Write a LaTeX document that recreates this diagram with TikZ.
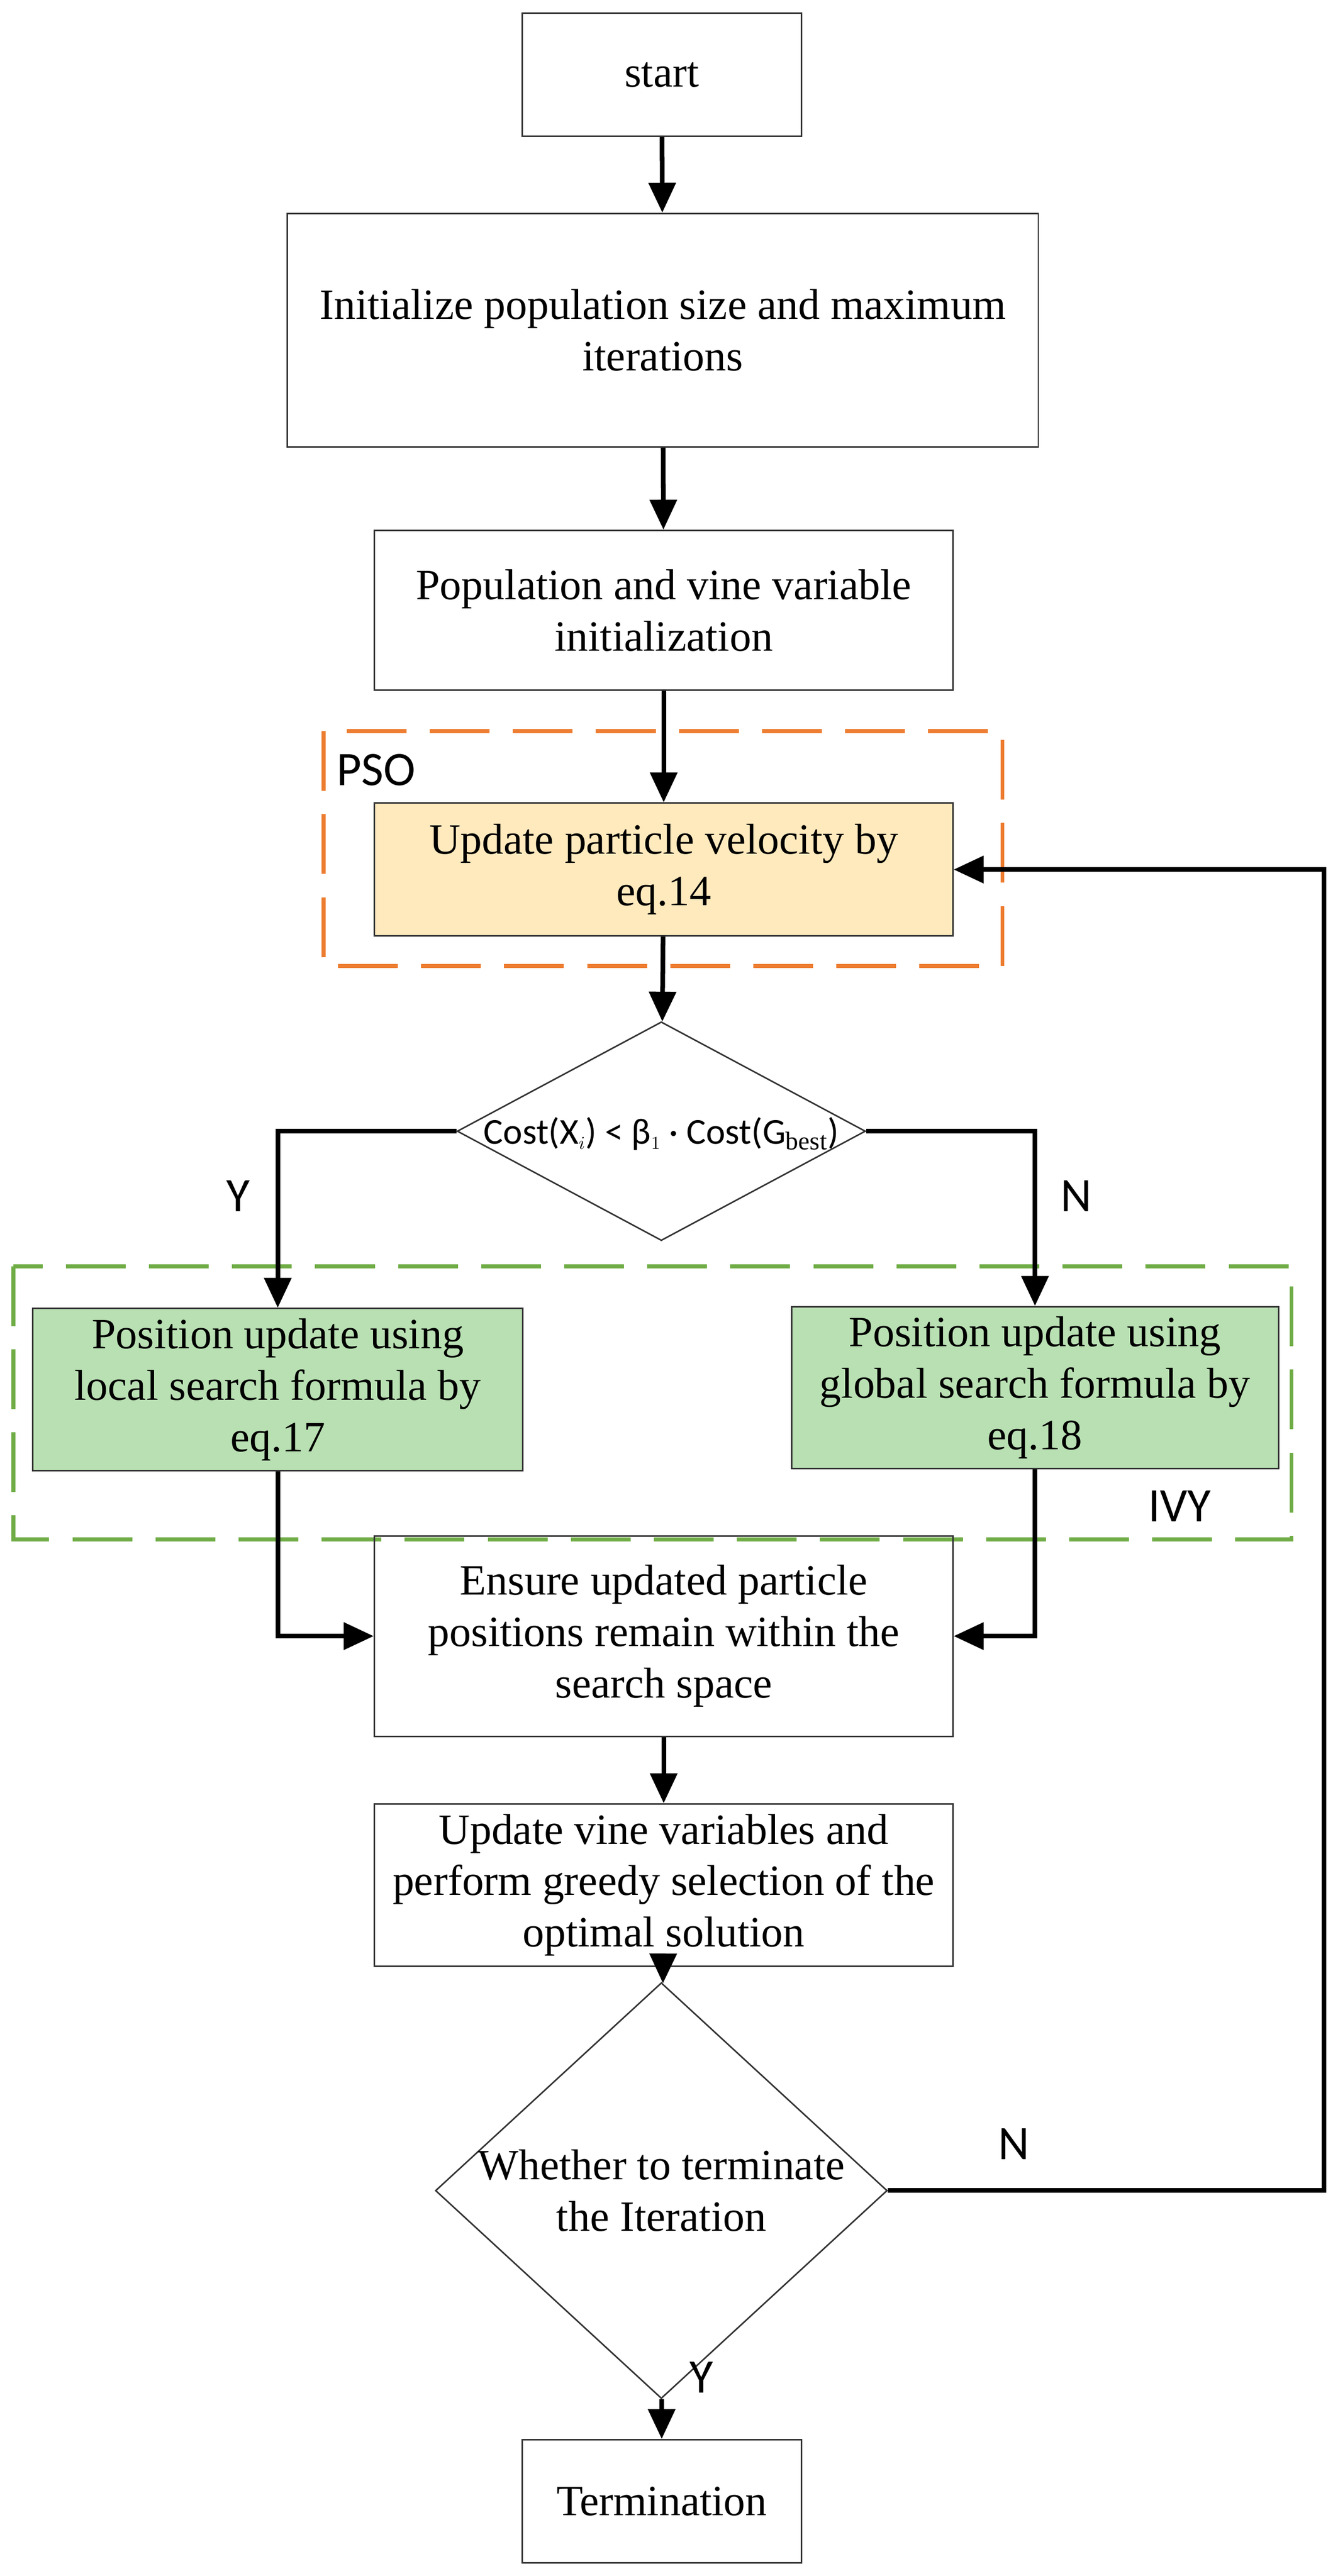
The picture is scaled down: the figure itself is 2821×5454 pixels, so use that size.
\documentclass[tikz,border=0pt]{standalone}
\usepackage{fontspec}
\setmainfont{Liberation Serif}
\newfontfamily\lab{Carlito}
\usetikzlibrary{shapes.geometric,arrows.meta}
\begin{document}
\begin{tikzpicture}[x=0.01cm,y=-0.01cm,
  box/.style={draw=black!80,line width=0.9pt,align=center,font=\fontsize{26}{31}\selectfont,inner sep=6pt},
  dia/.style={draw=black!80,line width=0.9pt,diamond,inner sep=0pt},
  arr/.style={line width=2.8pt,-{Triangle[length=18pt,width=16pt]}},
  lab/.style={font=\lab\fontsize{29}{33}\selectfont},
  grp/.style={line width=2.4pt,dash pattern=on 36pt off 14pt}]
\useasboundingbox (0,0) rectangle (2821,5454);
\node[box,minimum width=5.91cm,minimum height=2.61cm] (start) at (1401,158) {start};
\node[box,minimum width=15.89cm,minimum height=4.94cm] (init) at (1403,699) {Initialize population size and maximum\\iterations};
\node[box,minimum width=12.24cm,minimum height=3.38cm] (pop) at (1405,1292) {Population and vine variable\\initialization};
\node[box,fill={rgb,255:red,255;green,234;blue,190},minimum width=12.24cm,minimum height=2.81cm] (vel) at (1405,1841) {Update particle velocity by\\eq.14};
\draw[grp,draw={rgb,255:red,237;green,125;blue,49}] (685,1548) rectangle (2122,2045);
\node[lab,anchor=west] (pso) at (700,1630) {PSO};
\node[dia,minimum width=8.64cm,minimum height=4.63cm] (d1) at (1400,2395) {};
\node[font=\lab\fontsize{22}{26}\selectfont] (f1) at (1400,2400) {Cost(X$_{\scriptscriptstyle i}$) < β$_{\scriptscriptstyle 1}$ · Cost(G$_{\mathrm{best}}$)};
\draw[grp,draw={rgb,255:red,112;green,173;blue,71}] (28,2681) rectangle (2734,3259);
\node[box,fill={rgb,255:red,185;green,224;blue,179},minimum width=10.36cm,minimum height=3.2cm] (loc) at (588,2942) {Position update using\\local search formula by\\eq.17};
\node[box,fill={rgb,255:red,185;green,224;blue,179},minimum width=10.3cm,minimum height=3.0cm] (glo) at (2191,2938) {Position update using\\global search formula by\\eq.18};
\node[lab] (ivy) at (2497,3189) {IVY};
\node[box,minimum width=12.24cm,minimum height=4.24cm] (ens) at (1405,3464) {Ensure updated particle\\positions remain within the\\search space};
\node[box,minimum width=12.24cm,minimum height=2.96cm] (vine) at (1405,3991) {Update vine variables and\\perform greedy selection of the\\optimal solution};
\node[dia,minimum width=9.56cm,minimum height=8.8cm] (d2) at (1400,4638) {};
\node[box,draw=none] (f2) at (1400,4638) {Whether to terminate\\the Iteration};
\node[box,minimum width=5.91cm,minimum height=2.61cm] (term) at (1401,5296) {Termination};
\node[lab] (y1) at (504,2532) {Y};
\node[lab] (n1) at (2278,2532) {N};
\node[lab] (n2) at (2146,4539) {N};
\node[lab] (y2) at (1485,5033) {Y};
\coordinate (lc) at (2803,4638);
\draw[arr] (start) -- (init);
\draw[arr] (init) -- (pop);
\draw[arr] (pop) -- (vel);
\draw[arr] (vel) -- (d1);
\draw[arr] (d1.west) -| (loc.north);
\draw[arr] (d1.east) -| (glo.north);
\draw[arr] (loc.south) |- (ens.west);
\draw[arr] (glo.south) |- (ens.east);
\draw[arr] (ens) -- (vine);
\draw[arr] (vine) -- (d2);
\draw[arr] (d2) -- (term);
\draw[arr] (d2.east) -- (lc) |- (vel.east);
\end{tikzpicture}
\end{document}
